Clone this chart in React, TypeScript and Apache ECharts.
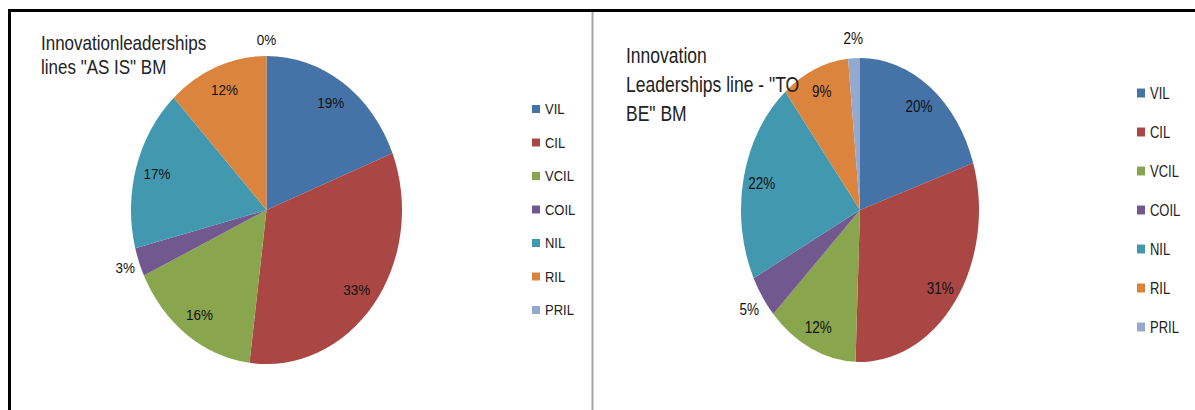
import React, { useEffect, useRef } from 'react';
import * as echarts from 'echarts';

const categories = ['VIL', 'CIL', 'VCIL', 'COIL', 'NIL', 'RIL', 'PRIL'];
const asIsValues = [19, 33, 16, 3, 17, 12, 0];
const toBeValues = [20.0, 30.6, 12.4, 4.6, 21.6, 9.2, 1.6];
const colors = ['#4572A7', '#AA4643', '#89A54E', '#71588F', '#4198AF', '#DB843D', '#93A9CF'];
const titleAsIs = 'Innovationleaderships\nlines "AS IS" BM';
const titleToBe = 'Innovation\nLeaderships line - "TO\nBE" BM';

const FONT = '"Liberation Sans", Arial, sans-serif';
const SMALL = 6;

type Panel = {
  ratio: number;
  left: number;
  width: number;
  values: number[];
  center: [number, number];
  r: number;
  outerK: number;
  title: string;
  titleX: number;
  titleTop: number;
  titleSize: number;
  titleLH: number;
  legendX: number;
  legendTop: number;
  legendGap: number;
  lines: any[];
};

const LR = 1.137;
const RR = 1.277;

const LEFT: Panel = {
  ratio: LR,
  left: 0,
  width: 591,
  values: asIsValues,
  center: [266.5, 210 / LR],
  r: 135.5,
  outerK: 1.17,
  title: titleAsIs,
  titleX: 41,
  titleTop: 44 / LR - 10.5,
  titleSize: 17,
  titleLH: 21,
  legendX: 532,
  legendTop: 109 / LR - 7,
  legendGap: 33.5 / LR - 14,
  lines: [
    { type: 'line', shape: { x1: 8, y1: 10.5 / LR, x2: 591, y2: 10.5 / LR }, style: { stroke: '#000', lineWidth: 3 / LR } },
    { type: 'line', shape: { x1: 9.5, y1: 9 / LR, x2: 9.5, y2: 410 / LR }, style: { stroke: '#000', lineWidth: 3 } },
  ],
};

const RIGHT: Panel = {
  ratio: RR,
  left: 590,
  width: 605,
  values: toBeValues,
  center: [270, 210 / RR],
  r: 119,
  outerK: 1.22,
  title: titleToBe,
  titleX: 36,
  titleTop: 55 / RR - 11.35,
  titleSize: 17.5,
  titleLH: 22.7,
  legendX: 547,
  legendTop: 93 / RR - 7,
  legendGap: 39 / RR - 14,
  lines: [
    { type: 'line', shape: { x1: 0, y1: 10.5 / RR, x2: 605, y2: 10.5 / RR }, style: { stroke: '#000', lineWidth: 3 / RR } },
    { type: 'line', shape: { x1: 2.5, y1: 12 / RR, x2: 2.5, y2: 410 / RR }, style: { stroke: '#a5a5a5', lineWidth: 2 } },
  ],
};

function buildOption(p: Panel) {
  const fmt = (x: any) => Math.round(x.percent) + '%';
  const base = categories.map((name, i) => ({ name, value: p.values[i] }));
  const inner = categories.map((name, i) => ({ name, value: p.values[i], label: { show: p.values[i] >= SMALL } }));
  const outer = categories.map((name, i) => ({ name, value: p.values[i], label: { show: p.values[i] < SMALL } }));
  const common = {
    type: 'pie',
    center: p.center,
    startAngle: 90,
    clockwise: true,
    avoidLabelOverlap: false,
    labelLine: { show: false },
    emphasis: { disabled: true },
  };
  const labelStyle = {
    position: 'inside',
    formatter: fmt,
    fontFamily: FONT,
    fontSize: 13.5,
    color: '#111',
  };
  return {
    animation: false,
    color: colors,
    graphic: [
      ...p.lines,
      {
        type: 'text',
        z: 100,
        left: p.titleX,
        top: p.titleTop,
        style: { text: p.title, fontFamily: FONT, fontSize: p.titleSize, lineHeight: p.titleLH, fill: '#222' },
      },
    ],
    legend: {
      orient: 'vertical',
      left: p.legendX,
      top: p.legendTop,
      padding: 0,
      itemWidth: 8,
      itemHeight: 7,
      itemGap: p.legendGap,
      icon: 'rect',
      selectedMode: false,
      data: categories,
      textStyle: { fontFamily: FONT, fontSize: 13, color: '#222', lineHeight: 14 },
    },
    series: [
      { ...common, name: 'base', radius: [0, p.r], data: base, label: { show: false }, itemStyle: { borderWidth: 0 } },
      {
        ...common,
        name: 'innerLabels',
        radius: [p.r * 0.64, p.r],
        data: inner,
        silent: true,
        legendHoverLink: false,
        itemStyle: { color: 'transparent' },
        label: labelStyle,
      },
      {
        ...common,
        name: 'outerLabels',
        radius: [p.r, p.r * p.outerK],
        data: outer,
        silent: true,
        legendHoverLink: false,
        itemStyle: { color: 'transparent' },
        label: labelStyle,
      },
    ],
  };
}

export default function App() {
  const leftRef = useRef<HTMLDivElement>(null);
  const rightRef = useRef<HTMLDivElement>(null);
  useEffect(() => {
    const charts: any[] = [];
    [
      [leftRef.current, LEFT],
      [rightRef.current, RIGHT],
    ].forEach(([el, p]: any) => {
      const c = echarts.init(el, undefined, { renderer: 'svg', width: p.width, height: 410 / p.ratio });
      c.setOption(buildOption(p));
      charts.push(c);
    });
    return () => charts.forEach((c) => c.dispose());
  }, []);
  const box = (p: Panel): React.CSSProperties => ({
    position: 'absolute',
    left: p.left,
    top: 0,
    width: p.width,
    height: 410 / p.ratio,
    transform: `scaleY(${p.ratio})`,
    transformOrigin: '0 0',
  });
  return (
    <div style={{ position: 'fixed', left: 0, top: 0, width: 1195, height: 410, background: '#fff', overflow: 'hidden' }}>
      <div ref={leftRef} style={box(LEFT)} />
      <div ref={rightRef} style={box(RIGHT)} />
    </div>
  );
}
